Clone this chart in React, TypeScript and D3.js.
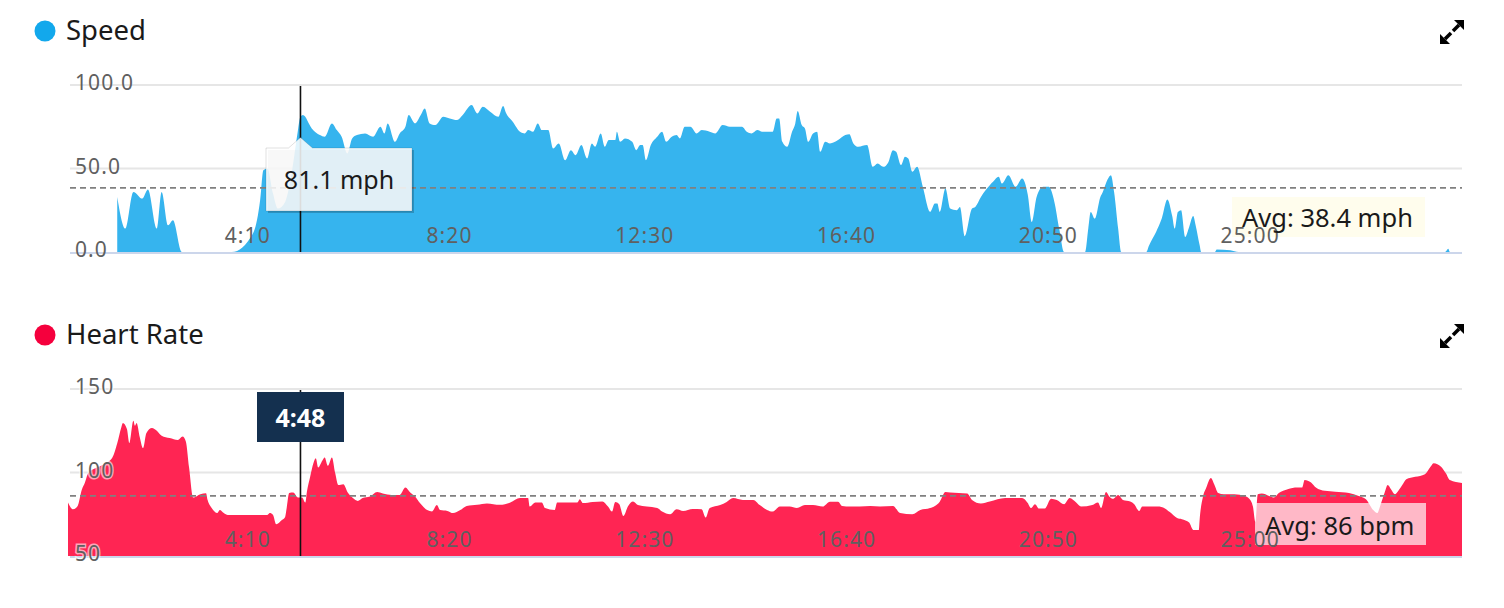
import React from "react";
import * as d3 from "d3";

// ---------- data ----------
const speedTimes = [61,71,81,92,99,110,116,124,130,141,203,229,238,242,247,254,260,269,278,284,288,291,302,312,318,327,333,339,346,352,358,368,378,387,392,396,405,411,418,422,430,437,442,448,455,465,473,482,489,500,507,514,523,533,539,543,551,560,566,570,576,582,587,595,601,608,616,623,629,636,643,649,653,660,665,670,678,680,684,690,699,704,709,712,716,722,730,736,741,748,754,758,764,771,779,785,795,802,811,820,829,835,841,847,854,860,873,878,881,885,891,897,901,904,909,913,917,923,928,932,938,944,954,963,968,973,979,990,997,1003,1010,1016,1022,1026,1032,1037,1041,1046,1052,1059,1068,1074,1077,1080,1087,1093,1101,1105,1111,1120,1124,1131,1142,1146,1153,1157,1165,1174,1182,1189,1194,1200,1208,1215,1222,1228,1234,1260,1264,1267,1272,1279,1282,1288,1292,1296,1301,1305,1336,1339,1348,1355,1362,1368,1371,1375,1379,1384,1389,1394,1397,1402,1404,1421,1423,1440,1450,1706,1710,1712,1727];
const speedValues = [33,14,36,32,37.5,14,36,16,19,0,0,11,31,49,50,35,26,30,50,70,81.1,82,74,70,69,77,73,69,59,68,70,71,69,75,71,77,66,71,75,82,77,82,86,77,76,81,80,79,82,88,83,87,84,81,87.5,83,78,72,71,73,72,77,73,73,62,65,55,61,58,64,56,65,63,71,63,67,67,72,66,68,66,61,64,64,55,64,69,72,66,69,70,68,75,75,71,73,72,71,76,75,75,75,72,71,73,72,72,80,80,66,63,72,77,84.5,76,74,66,71,72,60,66,65,67,70,70.5,65,63,64,51,53,51,53.5,61,60,52,57,56,48,51,39,24,29,29,24,38,26,25,27,9.5,26,27,33,40,42,45,41,46,39,44,34.5,18,33,39,39,30,14,0,0,14,24,20,33,36,43.5,46,36,14,0,0,3.6,12,20,31.5,21.5,14,24,25,9,15,21.5,16,4,0,0,1.5,1,0,0,2,0,0];

const hrTimes = [0,6,12,17,21,25,36,43,55,61,66,68,73,76,81,83,85,89,93,97,104,110,116,126,136,142,146,150,155,164,171,173,178,185,188,193,198,247,250,254,258,265,269,271,274,279,285,290,294,296,300,304,307,310,315,318,322,327,331,335,341,347,353,359,365,374,383,390,401,411,418,424,430,436,445,451,457,461,470,477,486,494,507,519,535,548,560,570,572,579,587,591,603,606,631,634,638,650,662,669,674,678,683,688,694,700,706,717,730,736,746,754,762,774,785,790,795,808,816,824,836,849,857,866,873,882,894,903,913,923,935,944,954,959,969,981,994,1006,1022,1031,1046,1056,1068,1080,1087,1093,1114,1120,1131,1142,1161,1182,1189,1193,1198,1203,1210,1218,1225,1234,1241,1249,1255,1269,1276,1280,1286,1290,1295,1301,1307,1316,1321,1327,1331,1350,1359,1365,1374,1380,1389,1394,1401,1402,1406,1410,1416,1420,1425,1432,1445,1458,1464,1468,1471,1474,1479,1488,1494,1500,1511,1523,1529,1532,1540,1546,1557,1570,1587,1599,1608,1617,1622,1626,1631,1635,1639,1644,1649,1653,1658,1669,1681,1688,1692,1701,1707,1712,1727];
const hrValues = [82,78,80,89.5,94,99.5,103,104.5,109,117.5,127,129.6,126,117.5,131,128,129.6,121,114.6,123.5,126.7,125,122,120.6,119.5,121.6,118.6,103,85,87,87.6,83.5,78.7,75.7,77.5,75.7,74.6,74.6,75.7,74.6,69,71.5,73.4,79,87.7,88,85,85,82,88.6,97.5,105.6,108.6,103,107,109,104,109,99.7,92.5,93,87.7,84.7,83,84.7,85.6,88.3,87.5,86.6,86.6,91,88,85.6,81.7,77.5,76.7,80.6,77.5,77,75.7,77.5,80,80.7,81.5,80.7,82,84.7,84.7,79.6,82,82,78.7,77.6,82,82,84,81.7,82.4,82.7,79.6,76.6,82.4,81,74,80,82.6,80.5,79.6,78.7,76.6,75,78,77,78.2,78,73,78.7,80.5,82.4,84.7,83.6,83.6,80.5,77.6,76.6,79.6,79.6,78.7,80.5,80.5,79.6,82.5,82.5,80,79.6,79.6,80,79.6,80,75.7,75,77.6,78.7,82.5,88.3,88,87.4,83.6,81.5,82.6,84.7,84.7,81.7,78.7,81,78.4,78.4,84.3,83.5,81,84.7,82,79.6,80.5,82,78.7,88.3,85.7,84.3,86.5,83.6,82.7,81,77,79.6,79.6,78.5,76.3,72.7,72,70,65.6,65.6,72,85.3,90.7,96.7,93,87.7,87,87,86,84,79.6,70.4,87,87.4,86,85,87.7,90,91,91,95.5,94,91,89,88.5,87.7,86,84,77.5,75.7,80.6,87.7,92.5,90,87,89.6,92.5,96,97.4,99,103.5,105.6,103.5,99.6,95.5,93.7];

const xTickValues = [250, 500, 750, 1000, 1250, 1500];
const speedTicks = [0, 50, 100];
const hrTicks = [50, 100, 150];
const speedAvg = 38.4;
const hrAvg = 86;
const cursorTime = 288;
const cursorSpeed = 81.1;

const FONT = "'Noto Sans', 'Open Sans', sans-serif";

const fmtTime = (s: number) => {
  const m = Math.floor(s / 60);
  const ss = Math.round(s % 60);
  return `${m}:${ss < 10 ? "0" : ""}${ss}`;
};

const x = d3.scaleLinear().domain([0, 1727]).range([68, 1462]);
const GRID_L = 70;
const GRID_R = 1462;

function ExpandIcon({ x0, y0 }: { x0: number; y0: number }) {
  return (
    <g>
      <path d={`M${x0 + 24},${y0} L${x0 + 24},${y0 + 10} L${x0 + 14},${y0} Z`} fill="#000" />
      <line x1={x0 + 19} y1={y0 + 5} x2={x0 + 13} y2={y0 + 11} stroke="#000" strokeWidth={3.5} />
      <path d={`M${x0},${y0 + 24} L${x0},${y0 + 14} L${x0 + 10},${y0 + 24} Z`} fill="#000" />
      <line x1={x0 + 5} y1={y0 + 19} x2={x0 + 11} y2={y0 + 13} stroke="#000" strokeWidth={3.5} />
    </g>
  );
}

function Panel(props: {
  title: string;
  dot: string;
  fill: string;
  titleY: number;
  times: number[];
  values: number[];
  domain: [number, number];
  range: [number, number];
  ticks: number[];
  tickFmt: (v: number) => string;
  avg: number;
  avgText: string;
  avgFill: string;
  avgBox: [number, number, number, number];
  tickY: number;
  halo: boolean;
}) {
  const y = d3.scaleLinear().domain(props.domain).range(props.range);
  const pts = props.times.map((t, i) => [t, props.values[i]] as [number, number]);
  const area = d3
    .area<[number, number]>()
    .x((d) => x(d[0]))
    .y0(y(props.domain[0]))
    .y1((d) => y(d[1]))
    .curve(d3.curveMonotoneX);
  const base = y(props.domain[0]);
  const [bx, by, bw, bh] = props.avgBox;
  return (
    <g>
      <circle cx={45} cy={props.titleY - 9} r={10.5} fill={props.dot} />
      <text x={66} y={props.titleY} fontSize={27.5} fill="#1a1a1a" fontFamily={FONT}>
        {props.title}
      </text>
      <ExpandIcon x0={1440} y0={props.titleY - 20} />
      {props.ticks.slice(1).map((t) => (
        <line key={t} x1={GRID_L} x2={GRID_R} y1={y(t)} y2={y(t)} stroke="#e6e6e6" strokeWidth={2} />
      ))}
      <path d={area(pts) || ""} fill={props.fill} />
      <line x1={GRID_L} x2={GRID_R} y1={base + 1} y2={base + 1} stroke="#ccd6eb" strokeWidth={2} />
      <line
        x1={GRID_L}
        x2={GRID_R}
        y1={y(props.avg)}
        y2={y(props.avg)}
        stroke="#808080"
        strokeWidth={1.6}
        strokeDasharray="6,4"
      />
      <rect x={bx} y={by} width={bw} height={bh} fill={props.avgFill} />
      {xTickValues.map((t) => (
        <text
          key={t}
          x={x(t) + 1}
          y={props.tickY}
          textAnchor="end"
          fontSize={21}
          fill="#606060"
          fontFamily={FONT}
          letterSpacing={1.1}
        >
          {fmtTime(t)}
        </text>
      ))}
      {props.ticks.map((t) => (
        <text
          key={t}
          x={75}
          y={y(t) + 5}
          fontSize={21}
          fill="#606060"
          fontFamily={FONT}
          letterSpacing={1.1}
          stroke={props.halo ? "#fff" : "none"}
          strokeWidth={props.halo ? 3 : 0}
          strokeOpacity={0.6}
          paintOrder="stroke"
        >
          {props.tickFmt(t)}
        </text>
      ))}
      <text x={bx + 10} y={by + bh - 10} fontSize={25.5} fill="#1a1a1a" fontFamily={FONT}>
        {props.avgText}
      </text>
    </g>
  );
}

export default function App() {
  const ySpeed = d3.scaleLinear().domain([0, 100]).range([252, 85]);
  const cx = x(cursorTime);
  return (
    <svg
      width={1504}
      height={608}
      style={{ position: "absolute", left: 0, top: 0, display: "block", background: "#fff" }}
    >
      <Panel
        title="Speed"
        dot="#12a8ec"
        fill="#36b4ee"
        titleY={40}
        times={speedTimes}
        values={speedValues}
        domain={[0, 100]}
        range={[252, 85]}
        ticks={speedTicks}
        tickFmt={(v) => v.toFixed(1)}
        avg={speedAvg}
        avgText={`Avg: ${speedAvg} mph`}
        avgFill="rgba(255,253,235,0.92)"
        avgBox={[1232, 197, 193, 40]}
        tickY={243}
        halo={false}
      />
      <Panel
        title="Heart Rate"
        dot="#f5003d"
        fill="#ff2553"
        titleY={344}
        times={hrTimes}
        values={hrValues}
        domain={[50, 150]}
        range={[556, 389]}
        ticks={hrTicks}
        tickFmt={(v) => String(v)}
        avg={hrAvg}
        avgText={`Avg: ${hrAvg} bpm`}
        avgFill="rgba(255,255,255,0.68)"
        avgBox={[1255, 503, 171, 42]}
        tickY={547}
        halo={true}
      />
      {/* cursor lines */}
      <line x1={cx} x2={cx} y1={86} y2={252} stroke="#111" strokeWidth={1.6} />
      <line x1={cx} x2={cx} y1={390} y2={556} stroke="#111" strokeWidth={1.6} />
      {/* speed tooltip */}
      <g>
        <rect x={268} y={150} width={146} height={63} fill="rgba(0,0,0,0.2)" />
        <path
          d={`M266,148 L${cx - 12},148 L${cx},${ySpeed(cursorSpeed) + 21} L${cx + 12},148 L412,148 L412,211 L266,211 Z`}
          fill="rgba(255,255,255,0.86)"
          stroke="rgba(0,0,0,0.12)"
          strokeWidth={1}
        />
        <text x={339} y={189} textAnchor="middle" fontSize={25} fill="#1a1a1a" fontFamily={FONT}>
          {`${cursorSpeed} mph`}
        </text>
      </g>
      {/* time tooltip */}
      <g>
        <rect x={257} y={392} width={87} height={50} fill="#14304f" />
        <text
          x={cx}
          y={427}
          textAnchor="middle"
          fontSize={25}
          fontWeight="bold"
          fill="#fff"
          fontFamily={FONT}
        >
          {fmtTime(cursorTime)}
        </text>
      </g>
    </svg>
  );
}
